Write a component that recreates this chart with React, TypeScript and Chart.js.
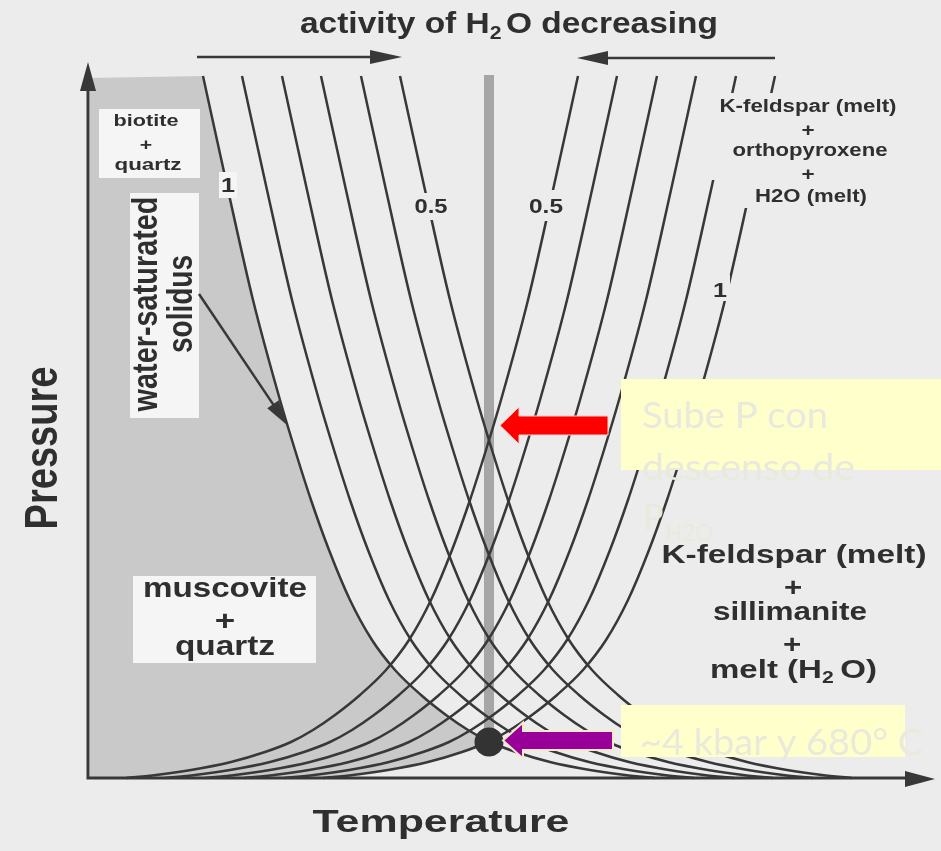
import React, { useEffect, useRef } from "react";
import { Chart, registerables } from "chart.js";

Chart.register(...registerables);

// Schematic P–T grid. Units: temperature (x) and pressure (y) measured from
// the corner of the axes; the diagram carries no numeric scale.
const T_MIN = -88;
const T_MAX = 853;
const P_MIN = -73;
const P_MAX = 778;

// Muscovite + quartz melting curves, aH2O = 1.0 (water-saturated solidus) … 0.5
const msA100 = [[115, 702], [140, 588], [165, 478], [192, 378], [207, 328], [223, 278], [241, 228], [262, 178], [284, 138], [307, 108], [333, 83], [358, 63], [380, 48], [402, 36], [428, 26], [462, 16], [502, 8], [537, 3], [567, 0]];
const msA90 = [[154, 702], [179, 588], [204, 478], [231, 378], [246, 328], [262, 278], [280, 228], [301, 178], [323, 138], [346, 108], [372, 83], [397, 63], [419, 48], [441, 36], [467, 26], [501, 16], [541, 8], [576, 3], [606, 0]];
const msA80 = [[194, 702], [219, 588], [244, 478], [271, 378], [286, 328], [302, 278], [320, 228], [341, 178], [363, 138], [386, 108], [412, 83], [437, 63], [459, 48], [481, 36], [507, 26], [541, 16], [581, 8], [616, 3], [646, 0]];
const msA70 = [[233, 702], [258, 588], [283, 478], [310, 378], [325, 328], [341, 278], [359, 228], [380, 178], [402, 138], [425, 108], [451, 83], [476, 63], [498, 48], [520, 36], [546, 26], [580, 16], [620, 8], [655, 3], [685, 0]];
const msA60 = [[273, 702], [298, 588], [323, 478], [350, 378], [365, 328], [381, 278], [399, 228], [420, 178], [442, 138], [465, 108], [491, 83], [516, 63], [538, 48], [560, 36], [586, 26], [620, 16], [660, 8], [695, 3], [725, 0]];
const msA50 = [[312, 702], [337, 588], [362, 478], [389, 378], [404, 328], [420, 278], [438, 228], [459, 178], [481, 138], [504, 108], [530, 83], [555, 63], [577, 48], [599, 36], [625, 26], [659, 16], [699, 8], [734, 3], [764, 0]];

// Biotite + quartz -> K-feldspar + orthopyroxene melting curves, aH2O = 0.5 … 1.0
const btA50 = [[490, 702], [465, 588], [440, 478], [413, 378], [398, 328], [382, 278], [364, 228], [343, 178], [321, 138], [298, 108], [272, 83], [247, 63], [225, 48], [203, 36], [177, 26], [143, 16], [103, 8], [68, 3], [38, 0]];
const btA60 = [[529, 702], [504, 588], [479, 478], [452, 378], [437, 328], [421, 278], [403, 228], [382, 178], [360, 138], [337, 108], [311, 83], [286, 63], [264, 48], [242, 36], [216, 26], [182, 16], [142, 8], [107, 3], [77, 0]];
const btA70 = [[569, 702], [544, 588], [519, 478], [492, 378], [477, 328], [461, 278], [443, 228], [422, 178], [400, 138], [377, 108], [351, 83], [326, 63], [304, 48], [282, 36], [256, 26], [222, 16], [182, 8], [147, 3], [117, 0]];
const btA80 = [[608, 702], [583, 588], [558, 478], [531, 378], [516, 328], [500, 278], [482, 228], [461, 178], [439, 138], [416, 108], [390, 83], [365, 63], [343, 48], [321, 36], [295, 26], [261, 16], [221, 8], [186, 3], [156, 0]];
const btA90 = [[648, 702], [623, 588], [598, 478], [571, 378], [556, 328], [540, 278], [522, 228], [501, 178], [479, 138], [456, 108], [430, 83], [405, 63], [383, 48], [361, 36], [335, 26], [301, 16], [261, 8], [226, 3], [196, 0]];
const btA100 = [[687, 702], [662, 588], [637, 478], [610, 378], [595, 328], [579, 278], [561, 228], [540, 178], [518, 138], [495, 108], [469, 83], [444, 63], [422, 48], [400, 36], [374, 26], [340, 16], [300, 8], [265, 3], [235, 0]];

const msCurves = [msA100, msA90, msA80, msA70, msA60, msA50];
const btCurves = [btA50, btA60, btA70, btA80, btA90, btA100];

// Isobaric path and the point where both water-saturated curves meet
const isobar = [[401, 703], [401, 48]];
const invariantPoint = [[401, 36]];
// Upper-left corner of the shaded subsolidus field
const shadeTop = 700;
const shadeLeft = 2;

const PAGE = "#ececec";
const INK = "#383838";
const TEXT = "#2f2f2f";
const SHADE = "#c9c9c9";
const BOX = "#f5f5f5";
const NOTE_BG = "#ffffcc";
const NOTE_INK = "#e9e9dc";
const SANS = '"Liberation Sans", Arial, sans-serif';
const NOTE = 'Lato, "Open Sans", sans-serif';

type Run = { t: string; size: number; dy?: number; gap?: number };

function fitRuns(ctx: CanvasRenderingContext2D, runs: Run[], left: number, right: number, baseline: number, color: string, family = SANS, weight = "bold") {
  let total = 0;
  const widths = runs.map((r) => {
    ctx.font = `${weight} ${r.size}px ${family}`;
    const w = ctx.measureText(r.t).width;
    total += w + (r.gap || 0);
    return w;
  });
  ctx.save();
  ctx.fillStyle = color;
  ctx.textAlign = "left";
  ctx.textBaseline = "alphabetic";
  ctx.translate(left, baseline);
  ctx.scale((right - left) / total, 1);
  let x = 0;
  runs.forEach((r, i) => {
    x += r.gap || 0;
    ctx.font = `${weight} ${r.size}px ${family}`;
    ctx.fillText(r.t, x, r.dy || 0);
    x += widths[i];
  });
  ctx.restore();
}

function fitText(ctx: CanvasRenderingContext2D, t: string, cx: number, width: number, baseline: number, size: number) {
  fitRuns(ctx, [{ t, size }], cx - width / 2, cx + width / 2, baseline, TEXT);
}

function wideText(ctx: CanvasRenderingContext2D, t: string, cx: number, baseline: number, size: number, sx = 1.25) {
  ctx.save();
  ctx.fillStyle = TEXT;
  ctx.font = `bold ${size}px ${SANS}`;
  ctx.textAlign = "center";
  ctx.textBaseline = "alphabetic";
  ctx.translate(cx, baseline);
  ctx.scale(sx, 1);
  ctx.fillText(t, 0, 0);
  ctx.restore();
}

function upText(ctx: CanvasRenderingContext2D, t: string, baseX: number, cy: number, length: number, size: number, cross: number) {
  ctx.save();
  ctx.fillStyle = TEXT;
  ctx.font = `bold ${size}px ${SANS}`;
  ctx.textAlign = "center";
  ctx.textBaseline = "alphabetic";
  const w = ctx.measureText(t).width;
  ctx.translate(baseX, cy);
  ctx.rotate(-Math.PI / 2);
  ctx.scale(length / w, cross);
  ctx.fillText(t, 0, 0);
  ctx.restore();
}

function poly(ctx: CanvasRenderingContext2D, pts: number[][], fill: string, stroke?: string, lw = 1) {
  ctx.beginPath();
  pts.forEach(([x, y], i) => (i ? ctx.lineTo(x, y) : ctx.moveTo(x, y)));
  ctx.closePath();
  ctx.fillStyle = fill;
  ctx.fill();
  if (stroke) {
    ctx.strokeStyle = stroke;
    ctx.lineWidth = lw;
    ctx.stroke();
  }
}

function arrow(ctx: CanvasRenderingContext2D, x1: number, y1: number, x2: number, y2: number, head: number, half: number, lw: number) {
  const len = Math.hypot(x2 - x1, y2 - y1);
  const dx = (x2 - x1) / len;
  const dy = (y2 - y1) / len;
  const bx = x2 - dx * head;
  const by = y2 - dy * head;
  ctx.strokeStyle = INK;
  ctx.lineWidth = lw;
  ctx.beginPath();
  ctx.moveTo(x1, y1);
  ctx.lineTo(bx + dx * 2, by + dy * 2);
  ctx.stroke();
  poly(ctx, [[x2, y2], [bx - dy * half, by + dx * half], [bx + dy * half, by - dx * half]], INK);
}

function blockArrow(ctx: CanvasRenderingContext2D, tipX: number, cy: number, headEnd: number, tailX: number, headHalf: number, bodyHalf: number, fill: string, stroke: string, lw: number) {
  poly(ctx, [
    [tipX, cy], [headEnd, cy - headHalf], [headEnd, cy - bodyHalf], [tailX, cy - bodyHalf],
    [tailX, cy + bodyHalf], [headEnd, cy + bodyHalf], [headEnd, cy + headHalf],
  ], fill, stroke, lw);
}

const diagramPlugin = {
  id: "phaseDiagram",
  beforeDraw(chart: any) {
    const { ctx, width, height } = chart;
    ctx.save();
    ctx.fillStyle = PAGE;
    ctx.fillRect(0, 0, width, height);
    ctx.restore();
  },
  beforeDatasetsDraw(chart: any) {
    const { ctx } = chart;
    const X = (v: number) => chart.scales.x.getPixelForValue(v);
    const Y = (v: number) => chart.scales.y.getPixelForValue(v);
    const ipT = invariantPoint[0][0];
    ctx.save();
    // subsolidus field: left of the water-saturated solidus down to the
    // invariant point, then under the water-saturated biotite curve
    ctx.beginPath();
    ctx.moveTo(X(shadeLeft), Y(shadeTop));
    msA100.filter(([t]) => t <= ipT + 1).forEach(([t, p]) => ctx.lineTo(X(t), Y(p)));
    btA100.filter(([t]) => t < ipT).forEach(([t, p]) => ctx.lineTo(X(t), Y(p)));
    ctx.lineTo(X(shadeLeft), Y(0));
    ctx.closePath();
    ctx.fillStyle = SHADE;
    ctx.fill();
    // label panels inside the shaded field
    ctx.fillStyle = BOX;
    ctx.fillRect(99, 109, 101, 69);
    ctx.fillRect(130, 193, 69, 225);
    ctx.fillRect(133, 576, 183, 87);
    ctx.restore();
  },
  afterDatasetsDraw(chart: any) {
    const { ctx } = chart;
    const ox = chart.scales.x.getPixelForValue(0);
    const oy = chart.scales.y.getPixelForValue(0);
    ctx.save();

    // breaks in the curves behind their labels
    ctx.fillStyle = BOX;
    ctx.fillRect(219, 172, 18, 26);
    ctx.fillStyle = PAGE;
    ctx.fillRect(413, 193, 38, 27);
    ctx.fillRect(527, 190, 38, 31);
    ctx.fillRect(711, 275, 19, 26);
    ctx.fillRect(700, 93, 205, 87);
    ctx.fillRect(738, 180, 167, 28);

    // axes
    ctx.strokeStyle = INK;
    ctx.lineWidth = 3;
    ctx.beginPath();
    ctx.moveTo(ox, oy);
    ctx.lineTo(ox, 88);
    ctx.moveTo(ox - 1.5, oy);
    ctx.lineTo(908, oy);
    ctx.stroke();
    poly(ctx, [[ox, 62], [ox - 8, 91], [ox + 8, 91]], INK);
    poly(ctx, [[935, oy + 1], [905, oy - 7], [905, oy + 9]], INK);

    // "activity of H2O decreasing" arrows
    arrow(ctx, 197, 57, 402, 57, 32, 7, 2.5);
    arrow(ctx, 775, 58, 577, 58, 31, 7, 2.5);
    // pointer to the water-saturated solidus
    arrow(ctx, 199, 294, 287, 425, 25, 7, 2.5);

    // titles
    fitRuns(ctx, [
      { t: "activity of H", size: 30 },
      { t: "2", size: 19, dy: 6 },
      { t: "O decreasing", size: 30, gap: 4 },
    ], 300, 718, 33, TEXT);
    fitText(ctx, "Temperature", 441, 257, 832, 32);
    upText(ctx, "Pressure", 57, 448, 163, 37, 1.25);

    // curve labels
    wideText(ctx, "1", 228, 192, 21, 1.2);
    fitText(ctx, "0.5", 431, 33, 213, 21);
    fitText(ctx, "0.5", 546, 34, 213, 21);
    wideText(ctx, "1", 720, 297, 21, 1.2);

    // field labels
    fitText(ctx, "biotite", 146, 65, 126, 17);
    wideText(ctx, "+", 146, 150, 17);
    fitText(ctx, "quartz", 148, 67, 170, 17);
    upText(ctx, "water-saturated", 157, 304, 215, 29, 1.2);
    upText(ctx, "solidus", 192, 304, 98, 29, 1.2);
    fitText(ctx, "muscovite", 225, 164, 597, 28);
    wideText(ctx, "+", 225, 630, 28);
    fitText(ctx, "quartz", 225, 100, 655, 28);

    fitText(ctx, "K-feldspar (melt)", 808, 177, 112, 18);
    wideText(ctx, "+", 808, 136, 18);
    fitText(ctx, "orthopyroxene", 810, 155, 156, 18);
    wideText(ctx, "+", 808, 180, 18);
    fitText(ctx, "H2O (melt)", 811, 112, 202, 18);

    fitText(ctx, "K-feldspar (melt)", 794, 265, 563, 25);
    wideText(ctx, "+", 793, 596, 25);
    fitText(ctx, "sillimanite", 790, 154, 620, 25);
    wideText(ctx, "+", 792, 653, 25);
    fitRuns(ctx, [
      { t: "melt (H", size: 25 },
      { t: "2", size: 16, dy: 5 },
      { t: "O)", size: 25, gap: 5 },
    ], 710, 877, 678, TEXT);

    // notes
    ctx.fillStyle = NOTE_BG;
    ctx.fillRect(621, 379, 320, 91);
    ctx.fillRect(621, 705, 284, 52);
    fitRuns(ctx, [{ t: "Sube P con", size: 37 }], 642, 828, 428, NOTE_INK, NOTE, "normal");
    fitRuns(ctx, [{ t: "descenso de", size: 37 }], 642, 855, 480, NOTE_INK, NOTE, "normal");
    fitRuns(ctx, [
      { t: "P", size: 37 },
      { t: "H2O", size: 24, dy: 11, gap: 2 },
    ], 643, 713, 530, NOTE_INK, NOTE, "normal");
    fitRuns(ctx, [{ t: "~4 kbar y 680° C", size: 37 }], 640, 923, 755, NOTE_INK, NOTE, "normal");

    blockArrow(ctx, 500, 425.5, 519, 608, 18.5, 9.5, "#ff0000", "#f6d0d0", 1);
    blockArrow(ctx, 503, 740.5, 523, 613, 18, 9.5, "#990099", "#f1ebc9", 2);

    ctx.restore();
  },
};

export default function App() {
  const ref = useRef<HTMLCanvasElement>(null);

  useEffect(() => {
    document.body.style.margin = "0";
    document.body.style.background = PAGE;
    const canvas = ref.current;
    if (!canvas) return;
    const toXY = (c: number[][]) => c.map(([x, y]) => ({ x, y }));
    const curve = (c: number[][], label: string) => ({
      label,
      data: toXY(c),
      borderColor: INK,
      borderWidth: 2.5,
      pointRadius: 0,
      cubicInterpolationMode: "monotone" as const,
      fill: false,
      order: 1,
    });
    const chart = new Chart(canvas, {
      type: "line",
      data: {
        datasets: [
          {
            label: "invariant point",
            data: toXY(invariantPoint),
            showLine: false,
            pointRadius: 14.5,
            pointBackgroundColor: "#333333",
            pointBorderWidth: 0,
            order: 0,
          },
          ...msCurves.map((c, i) => curve(c, `Ms + Qz, aH2O ${(1 - i * 0.1).toFixed(1)}`)),
          ...btCurves.map((c, i) => curve(c, `Bt + Qz, aH2O ${(0.5 + i * 0.1).toFixed(1)}`)),
          {
            label: "isobar",
            data: toXY(isobar),
            borderColor: "#a6a6a6",
            borderWidth: 10,
            pointRadius: 0,
            order: 2,
          },
        ],
      },
      options: {
        responsive: false,
        animation: false,
        devicePixelRatio: 1,
        events: [],
        layout: { padding: 0, autoPadding: false },
        scales: {
          x: { type: "linear", min: T_MIN, max: T_MAX, display: false },
          y: { type: "linear", min: P_MIN, max: P_MAX, display: false },
        },
        plugins: { legend: { display: false }, tooltip: { enabled: false } },
      },
      plugins: [diagramPlugin],
    });
    return () => chart.destroy();
  }, []);

  return <canvas ref={ref} width={941} height={851} style={{ display: "block", width: 941, height: 851 }} />;
}
